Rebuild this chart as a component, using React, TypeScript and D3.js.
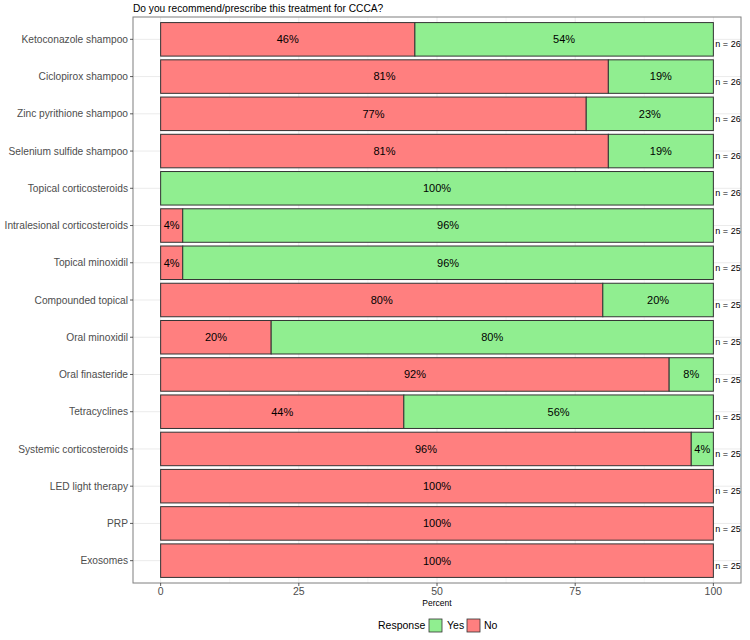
import React from "react";
import * as d3 from "d3";

const categories = [
  "Ketoconazole shampoo",
  "Ciclopirox shampoo",
  "Zinc pyrithione shampoo",
  "Selenium sulfide shampoo",
  "Topical corticosteroids",
  "Intralesional corticosteroids",
  "Topical minoxidil",
  "Compounded topical",
  "Oral minoxidil",
  "Oral finasteride",
  "Tetracyclines",
  "Systemic corticosteroids",
  "LED light therapy",
  "PRP",
  "Exosomes",
];
const noValues = [46, 81, 77, 81, 0, 4, 4, 80, 20, 92, 44, 96, 100, 100, 100];
const yesValues = [54, 19, 23, 19, 100, 96, 96, 20, 80, 8, 56, 4, 0, 0, 0];
const nValues = [26, 26, 26, 26, 26, 25, 25, 25, 25, 25, 25, 25, 25, 25, 25];
const xTicks = [0, 25, 50, 75, 100];
const minorTicks = [12.5, 37.5, 62.5, 87.5];

const COLOR_NO = "#FF7F7F";
const COLOR_YES = "#90EE90";

export default function App() {
  const W = 750, H = 640;
  const panel = { left: 133, right: 741, top: 17, bottom: 583 };
  const x = d3.scaleLinear().domain([-5, 105]).range([panel.left, panel.right]);
  const n = categories.length;
  const unit = (panel.bottom - panel.top) / (n - 1 + 1.2);
  const yc = (i: number) => panel.top + (0.6 + i) * unit;
  const bh = unit * 0.9;
  const font = "Liberation Sans, Arial, sans-serif";

  return (
    <svg width={W} height={H} style={{ position: "absolute", left: 0, top: 0, fontFamily: font }}>
      <rect x={0} y={0} width={W} height={H} fill="#fff" />
      <text x={panel.left} y={12} fontSize={10.2} fill="#000">
        Do you recommend/prescribe this treatment for CCCA?
      </text>
      {minorTicks.map((t) => (
        <line key={"m" + t} x1={x(t)} x2={x(t)} y1={panel.top} y2={panel.bottom} stroke="#F2F2F2" strokeWidth={0.6} />
      ))}
      {xTicks.map((t) => (
        <line key={"g" + t} x1={x(t)} x2={x(t)} y1={panel.top} y2={panel.bottom} stroke="#EBEBEB" strokeWidth={1} />
      ))}
      {categories.map((c, i) => (
        <line key={"h" + c} x1={panel.left} x2={panel.right} y1={yc(i)} y2={yc(i)} stroke="#EBEBEB" strokeWidth={1} />
      ))}
      {categories.map((c, i) => {
        const y0 = yc(i) - bh / 2;
        return (
          <g key={"b" + c}>
            {noValues[i] > 0 && (
              <rect x={x(0)} y={y0} width={x(noValues[i]) - x(0)} height={bh} fill={COLOR_NO} stroke="#333" strokeWidth={1} />
            )}
            {yesValues[i] > 0 && (
              <rect x={x(noValues[i])} y={y0} width={x(noValues[i] + yesValues[i]) - x(noValues[i])} height={bh} fill={COLOR_YES} stroke="#333" strokeWidth={1} />
            )}
            {noValues[i] > 0 && (
              <text x={x(noValues[i] / 2)} y={yc(i)} dy="0.35em" textAnchor="middle" fontSize={11} fill="#000">
                {noValues[i]}%
              </text>
            )}
            {yesValues[i] > 0 && (
              <text x={x(noValues[i] + yesValues[i] / 2)} y={yc(i)} dy="0.35em" textAnchor="middle" fontSize={11} fill="#000">
                {yesValues[i]}%
              </text>
            )}
            <text x={x(100) + 2} y={yc(i) + 5} dy="0.35em" fontSize={9} fill="#000">
              n = {nValues[i]}
            </text>
          </g>
        );
      })}
      <rect x={panel.left} y={panel.top} width={panel.right - panel.left} height={panel.bottom - panel.top} fill="none" stroke="#7F7F7F" strokeWidth={1} />
      {categories.map((c, i) => (
        <g key={"yl" + c}>
          <line x1={panel.left - 3} x2={panel.left} y1={yc(i)} y2={yc(i)} stroke="#333" strokeWidth={0.8} />
          <text x={panel.left - 5} y={yc(i)} dy="0.35em" textAnchor="end" fontSize={10.2} fill="#4D4D4D">
            {c}
          </text>
        </g>
      ))}
      {xTicks.map((t) => (
        <g key={"xl" + t}>
          <line x1={x(t)} x2={x(t)} y1={panel.bottom} y2={panel.bottom + 3} stroke="#333" strokeWidth={0.8} />
          <text x={x(t)} y={panel.bottom + 12} textAnchor="middle" fontSize={10.5} fill="#4D4D4D">
            {t}
          </text>
        </g>
      ))}
      <text x={(panel.left + panel.right) / 2} y={606} textAnchor="middle" fontSize={8.5} fill="#000">
        Percent
      </text>
      <g>
        <text x={378} y={629} fontSize={10.5} fill="#000">Response</text>
        <rect x={429} y={619} width={13} height={13} fill={COLOR_YES} stroke="#333" strokeWidth={0.8} />
        <text x={447} y={629} fontSize={10.5} fill="#000">Yes</text>
        <rect x={467} y={619} width={13} height={13} fill={COLOR_NO} stroke="#333" strokeWidth={0.8} />
        <text x={484} y={629} fontSize={10.5} fill="#000">No</text>
      </g>
    </svg>
  );
}
